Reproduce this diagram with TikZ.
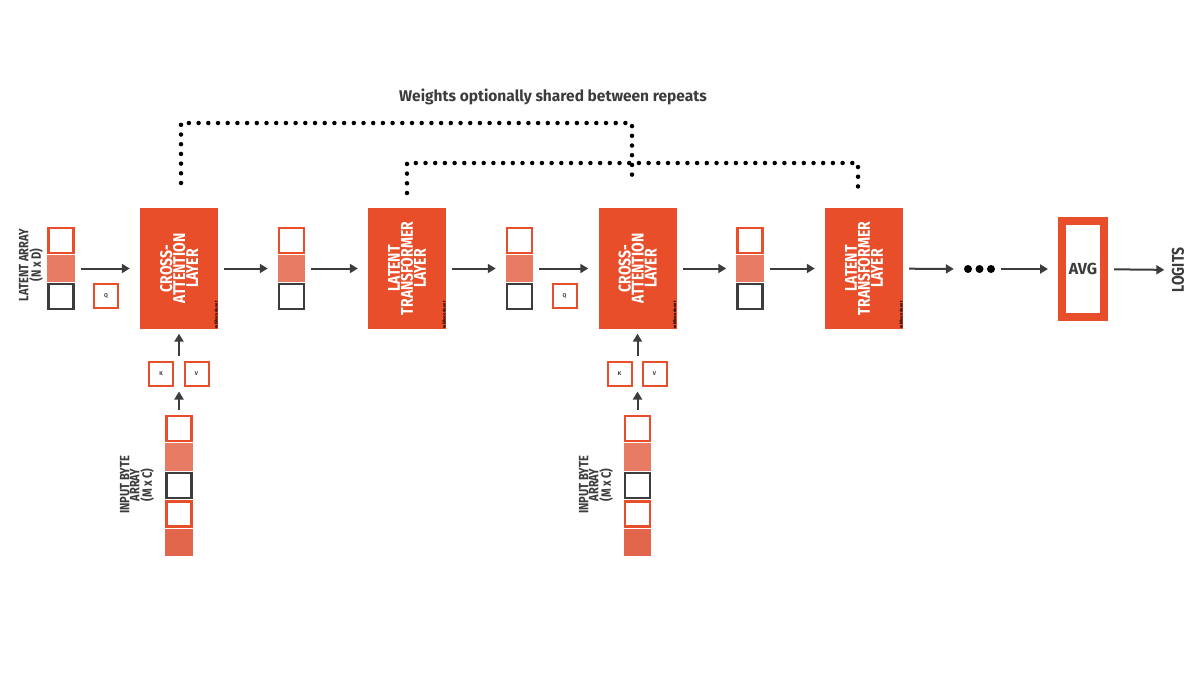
\documentclass[tikz,border=0pt]{standalone}
\usepackage{fontspec}
\setmainfont{Fira Sans}
\newfontfamily\condfont[FakeStretch=0.82]{Fira Sans}
\usetikzlibrary{positioning,matrix,arrows.meta}

\definecolor{boxorange}{HTML}{E84E2A}
\definecolor{celllight}{HTML}{E87B63}
\definecolor{celldark}{HTML}{E2664B}
\definecolor{inkgray}{HTML}{3C3C3C}

\tikzset{
  cellbase/.style={line width=2.5pt, minimum size=25pt, inner sep=0pt},
  outcell/.style={cellbase, draw=boxorange},
  graycell/.style={cellbase, draw=inkgray},
  lightcell/.style={cellbase, draw=celllight, fill=celllight},
  darkcell/.style={cellbase, draw=celldark, fill=celldark},
  stack/.style={matrix of nodes, nodes in empty cells, row sep=0.5pt, inner sep=0pt},
  layer/.style={rotate=90, fill=boxorange, minimum width=121pt, minimum height=78pt, inner sep=0pt,
    text=white, align=center, font=\condfont\bfseries\fontsize{17}{13}\selectfont},
  wmark/.style={rotate=90, anchor=south west, inner sep=0.4pt, text=black,
    font=\bfseries\fontsize{4}{4}\selectfont},
  keybox/.style={draw=boxorange, line width=2pt, minimum size=24pt, inner sep=0pt,
    text=inkgray, font=\bfseries\fontsize{5.5}{5.5}\selectfont},
  arrlabel/.style={rotate=90, align=center, text=inkgray,
    font=\condfont\bfseries\fontsize{13.5}{10}\selectfont},
  flow/.style={draw=inkgray, line width=2pt, -{Triangle[length=8pt,width=9pt]},
    shorten <=6pt, shorten >=10pt},
  upflow/.style={flow, shorten <=4.5pt, shorten >=4.5pt},
  dotline/.style={line width=4.5pt, line cap=round, dash pattern=on 0pt off 9.7pt},
  etcdot/.style={circle, fill=black, minimum size=8pt, inner sep=0pt}
}

\begin{document}
\begin{tikzpicture}[x=1pt,y=-1pt]
  \useasboundingbox[fill=white] (0,0) rectangle (1200,675);

  % title and shared weights
  \node[text=inkgray, font=\bfseries\fontsize{15.5}{15.5}\selectfont] (title) at (553,97)
    {Weights optionally shared between repeats};

  % latent arrays
  \matrix (lat1) [stack] at (61,268.5) { |[outcell]| \\ |[lightcell]| \\ |[graycell]| \\ };
  \matrix (lat2) [stack] at (291.5,268.5) { |[outcell]| \\ |[lightcell]| \\ |[graycell]| \\ };
  \matrix (lat3) [stack] at (519.5,268.5) { |[outcell]| \\ |[lightcell]| \\ |[graycell]| \\ };
  \matrix (lat4) [stack] at (750,268.5) { |[outcell]| \\ |[lightcell]| \\ |[graycell]| \\ };
  \node[arrlabel] (latlab) at (31,265) {LATENT ARRAY\\(N x D)};

  % layers
  \node[layer] (ca1) at (179,268.5) {CROSS-\\ATTENTION\\LAYER};
  \node[layer] (lt1) at (407,268.5) {LATENT\\TRANSFORMER\\LAYER};
  \node[layer] (ca2) at (637.5,268.5) {CROSS-\\ATTENTION\\LAYER};
  \node[layer] (lt2) at (864,268.5) {LATENT\\TRANSFORMER\\LAYER};
  \node[wmark] at (ca1.south west) {rubikscode.net};
  \node[wmark] at (lt1.south west) {rubikscode.net};
  \node[wmark] at (ca2.south west) {rubikscode.net};
  \node[wmark] at (lt2.south west) {rubikscode.net};

  % queries, keys, values
  \node[keybox] (q1) at (106,295.5) {Q};
  \node[keybox] (q2) at (564.5,295.5) {Q};
  \node[keybox] (k1) at (161,373.5) {K};
  \node[keybox] (v1) at (196.5,373.5) {V};
  \node[keybox] (k2) at (619.5,373.5) {K};
  \node[keybox] (v2) at (654.5,373.5) {V};
  \coordinate (kvt1) at (179,360);
  \coordinate (kvb1) at (179,387);
  \coordinate (kvt2) at (637.5,360);
  \coordinate (kvb2) at (637.5,387);

  % input byte arrays
  \matrix (inp1) [stack, row sep=1pt] at (179,485.5)
    { |[outcell]| \\ |[lightcell]| \\ |[graycell]| \\ |[outcell]| \\ |[darkcell]| \\ };
  \matrix (inp2) [stack, row sep=1pt] at (637.5,485.5)
    { |[outcell]| \\ |[lightcell]| \\ |[graycell]| \\ |[outcell]| \\ |[darkcell]| \\ };
  \node[arrlabel] (inplab1) at (137,485) {INPUT BYTE\\ARRAY\\(M x C)};
  \node[arrlabel] (inplab2) at (596,485) {INPUT BYTE\\ARRAY\\(M x C)};

  % output
  \node[etcdot] (d1) at (968,269) {};
  \node[etcdot] (d2) at (979.5,269) {};
  \node[etcdot] (d3) at (991,269) {};
  \node[draw=boxorange, line width=8pt, minimum width=42pt, minimum height=96pt, inner sep=0pt,
    text=inkgray, font=\bfseries\fontsize{16}{16}\selectfont] (avg) at (1083,269) {AVG};
  \node[rotate=90, text=inkgray, font=\condfont\bfseries\fontsize{17}{17}\selectfont] (logits)
    at (1178,270) {LOGITS};

  % connectors
  \draw[flow] (lat1-2-1) -- (ca1);
  \draw[flow] (ca1) -- (lat2-2-1);
  \draw[flow] (lat2-2-1) -- (lt1);
  \draw[flow] (lt1) -- (lat3-2-1);
  \draw[flow] (lat3-2-1) -- (ca2);
  \draw[flow] (ca2) -- (lat4-2-1);
  \draw[flow] (lat4-2-1) -- (lt2);
  \draw[flow] (lt2) -- (d1);
  \draw[flow] (d3) -- (avg);
  \draw[flow, shorten >=4pt] (avg) -- (logits);
  \draw[upflow] (inp1-1-1) -- (kvb1);
  \draw[upflow] (kvt1) -- (ca1);
  \draw[upflow] (inp2-1-1) -- (kvb2);
  \draw[upflow] (kvt2) -- (ca2);

  % shared weights
  \coordinate (sh1a) at (181,183);
  \coordinate (sh1b) at (632,183);
  \coordinate (sh2a) at (407,193);
  \coordinate (sh2b) at (858,193);
  \draw[dotline] (sh1a) -- ++(0,-60) -| (sh1b);
  \draw[dotline] (sh2a) -- ++(0,-30) -| (sh2b);
\end{tikzpicture}
\end{document}
